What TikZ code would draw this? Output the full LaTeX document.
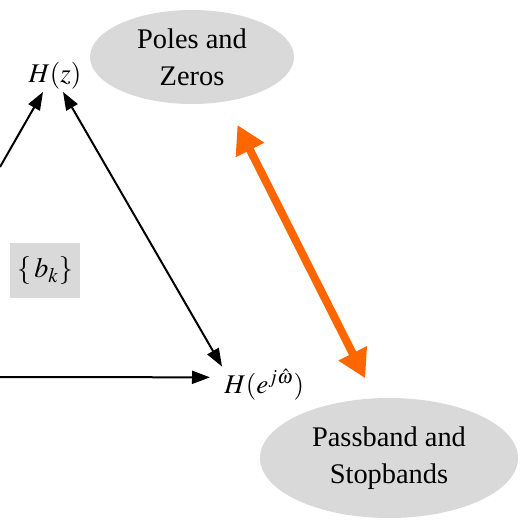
\documentclass[tikz,border=0pt]{standalone}
\usepackage{mathptmx}
\usepackage{fontspec}
\setmainfont{Liberation Serif}
\usetikzlibrary{arrows.meta,shapes.geometric}
\definecolor{shade}{HTML}{D9D9D9}
\definecolor{hot}{HTML}{FF6600}

\begin{document}
\begin{tikzpicture}[x=0.5pt,y=-0.5pt,
  >={Triangle[length=9pt,width=6.5pt]},
  blob/.style={ellipse,fill=shade,align=center,inner sep=0pt,font=\fontsize{14.2}{18.5}\selectfont},
  lab/.style={inner sep=1pt,font=\fontsize{13.5}{16}\selectfont},
  blk/.style={line width=1pt},
  hotarrow/.style={{Triangle[length=14pt,width=15pt]}-{Triangle[length=14pt,width=15pt]},hot,line width=4pt}]
  \useasboundingbox (0,0) rectangle (519,524);
  % the two shaded views
  \node[blob,minimum width=102pt,minimum height=47pt] (pz) at (192,57) {Poles and\\Zeros};
  \node[blob,minimum width=129pt,minimum height=60pt] (ps) at (389,458) {Passband and\\Stopbands};
  % the three domains
  \node[lab] (hz) at (55,76) {$H(z)$};
  \node[lab,anchor=base west] (hw) at (222,393) {$H(e^{j\hat{\omega}})$};
  \node[fill=shade,minimum width=35pt,minimum height=27.5pt,font=\fontsize{14}{16}\selectfont] (bk) at (45,270.5) {$\{\,b_k\}$};
  \coordinate (lefttop) at (0,167);
  \coordinate (leftbot) at (0,377);
  % connectors
  \draw[blk,->] (lefttop) -- ([xshift=-6pt]hz.south);
  \draw[blk,<->] ([xshift=4pt]hz.south) -- (hw.north west);
  \draw[blk,->,shorten >=6pt] (leftbot) -- ([yshift=3.5pt]hw.west);
  \draw[hotarrow,shorten <=13pt,shorten >=11pt] (pz.-53) -- (ps.103);
\end{tikzpicture}
\end{document}
